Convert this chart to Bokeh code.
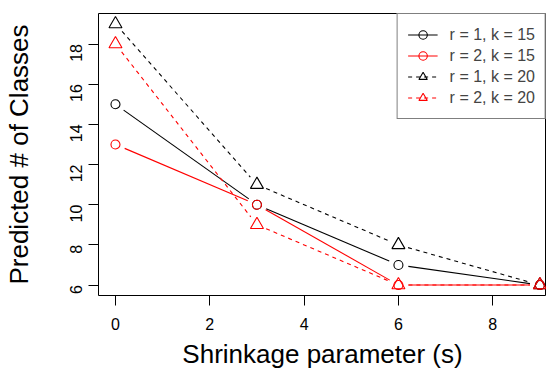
import math
from bokeh.plotting import figure
from bokeh.models import FixedTicker, Range1d, Legend, LegendItem, ColumnDataSource
from bokeh.embed import file_html
from bokeh.resources import INLINE

# ---- data ----
shrinkage = [0, 3, 6, 9]
r1_k15 = [15, 10, 7, 6]
r2_k15 = [13, 10, 6, 6]
r1_k20 = [19, 11, 8, 6]
r2_k20 = [18, 9, 6, 6]
labels = ["r = 1, k = 15", "r = 2, k = 15", "r = 1, k = 20", "r = 2, k = 20"]
x_ticks = [0, 2, 4, 6, 8]
y_ticks = [6, 8, 10, 12, 14, 16, 18]

FONT = "Liberation Sans"
W, H = 546, 371
ML, MR, MT, MB = 98, 0, 13, 76
X0, X1 = -0.36, 9.14
Y0, Y1 = 5.48, 19.52

p = figure(width=W, height=H, output_backend="svg", toolbar_location=None,
           x_range=Range1d(X0, X1), y_range=Range1d(Y0, Y1),
           min_border_left=ML, min_border_right=MR, min_border_top=MT,
           min_border_bottom=MB)
p.grid.visible = False
p.outline_line_color = "black"
p.outline_line_width = 1
p.background_fill_color = "white"
p.border_fill_color = "white"

# axes
for ax in (p.xaxis[0], p.yaxis[0]):
    ax.axis_line_color = None
    ax.major_tick_line_color = "black"
    ax.major_tick_in = 0
    ax.minor_tick_line_color = None
    ax.major_label_text_font = FONT
    ax.major_label_text_font_size = "16px"
    ax.major_label_text_color = "black"
    ax.axis_label_text_font = FONT
    ax.axis_label_text_font_size = "26px"
    ax.axis_label_text_font_style = "normal"
    ax.axis_label_text_color = "black"

p.xaxis.ticker = FixedTicker(ticks=x_ticks)
p.yaxis.ticker = FixedTicker(ticks=y_ticks)
p.xaxis.major_tick_out = 10
p.yaxis.major_tick_out = 10
p.xaxis.major_label_standoff = 12
p.yaxis.major_label_standoff = 12
p.yaxis.major_label_orientation = math.pi / 2
p.xaxis.axis_label = "Shrinkage parameter (s)"
p.yaxis.axis_label = "Predicted # of Classes"
p.xaxis.axis_label_standoff = 6
p.yaxis.axis_label_standoff = 28

# pixel scale (for gaps around points, like R type = "b")
SX = (W - ML - MR) / (X1 - X0)
SY = (H - MT - MB) / (Y1 - Y0)
GAP = 10.0

def gapped(xs, ys):
    x0s, y0s, x1s, y1s = [], [], [], []
    for i in range(len(xs) - 1):
        dx, dy = xs[i + 1] - xs[i], ys[i + 1] - ys[i]
        L = math.hypot(dx * SX, dy * SY)
        if L <= 2 * GAP:
            continue
        f = GAP / L
        x0s.append(xs[i] + dx * f); y0s.append(ys[i] + dy * f)
        x1s.append(xs[i + 1] - dx * f); y1s.append(ys[i + 1] - dy * f)
    return dict(x0=x0s, y0=y0s, x1=x1s, y1=y1s)

series = [
    (r1_k15, "black", "solid", "circle", 9),
    (r2_k15, "red", "solid", "circle", 9),
    (r1_k20, "black", "4 4", "triangle", 13),
    (r2_k20, "red", "4 4", "triangle", 13),
]

items = []
for (ys, color, dash, marker, size), lab in zip(series, labels):
    seg = p.segment(x0="x0", y0="y0", x1="x1", y1="y1",
                    source=ColumnDataSource(gapped(shrinkage, ys)),
                    line_color=color, line_width=1.1, line_dash=dash)
    sc = p.scatter(shrinkage, ys, marker=marker, size=size, fill_color=None,
                   line_color=color, line_width=1.1)
    items.append(LegendItem(label=lab, renderers=[seg, sc]))

legend = Legend(items=items, location="top_right", margin=0, padding=10,
                spacing=0, label_height=21, glyph_height=21, glyph_width=30,
                label_standoff=12, label_text_font=FONT,
                label_text_font_size="16px", border_line_color="black",
                border_line_width=1, background_fill_alpha=1.0)
p.add_layout(legend, "center")

with open("out.html", "w") as fh:
    fh.write(file_html(p, INLINE))
